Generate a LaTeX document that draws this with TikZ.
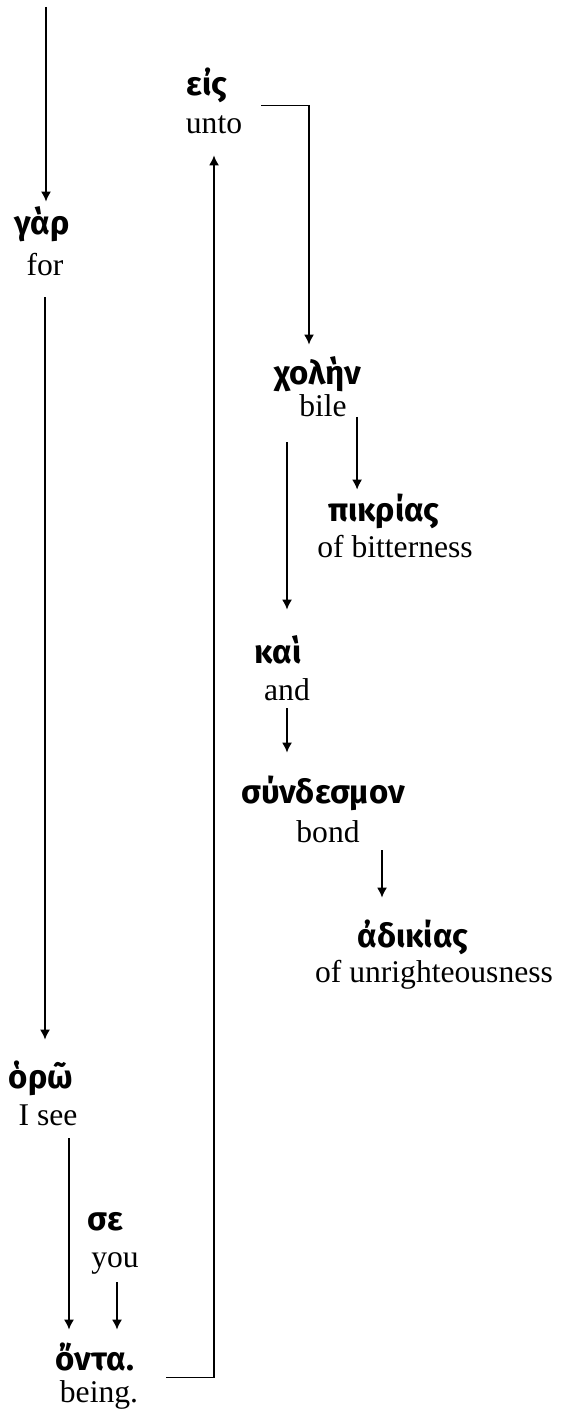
\documentclass[tikz,border=0pt]{standalone}
\usepackage{fontspec}
\setmainfont{Liberation Serif}
\newfontfamily\griego{Fira Sans}
\usetikzlibrary{arrows.meta}
\tikzset{
  gr/.style={anchor=base, inner sep=0pt, font=\griego\bfseries\fontsize{16.5}{19}\selectfont, text height=12pt, text depth=3pt},
  en/.style={anchor=base, inner sep=0pt, font=\fontsize{15.8}{18}\selectfont, text height=11pt, text depth=4pt},
  flecha/.style={-{Latex[length=5pt,width=5pt]}, line width=0.75pt}
}
\begin{document}
\begin{tikzpicture}[x=0.5pt,y=-0.5pt]
  \useasboundingbox (0,0) rectangle (565,1416);
  %palabras
  \node[gr] at (42,235) (gar) {γὰρ};
  \node[en] at (45,276) (for) {for};
  \node[gr] at (41,1088) (oro) {ὁρῶ};
  \node[en] at (48,1125) (isee) {I see};
  \node[gr] at (105,1230) (se) {σε};
  \node[en] at (115,1267) (you) {you};
  \node[gr] at (95,1370) (onta) {ὄντα.};
  \node[en] at (99,1402) (being) {being.};
  %%% RAMA DERECHA
  \node[gr] at (207,96) (eis) {εἰς};
  \node[en] at (214,134) (unto) {unto};
  \node[gr] at (318,385) (cholen) {χολὴν};
  \node[en] at (323,417) (bile) {bile};
  \node[gr] at (384,522) (pikrias) {πικρίας};
  \node[en] at (395,557) (bitter) {of bitterness};
  \node[gr] at (278,663) (kai) {καὶ};
  \node[en] at (287,700) (and) {and};
  \node[gr] at (323,803) (syndesmon) {σύνδεσμον};
  \node[en] at (328,842) (bond) {bond};
  \node[gr] at (413,947) (adikias) {ἀδικίας};
  \node[en] at (434,982) (unright) {of unrighteousness};
  \coordinate (arriba) at (46,7);
  %%%% FLECHAS
  \draw[flecha, shorten >=4.5pt] (arriba) -- (arriba |- gar.north);
  \draw[flecha, shorten <=6.5pt, shorten >=12pt] (for.south) -- (for.south |- oro.north);
  \draw[flecha, shorten <=2.5pt, shorten >=8pt] ([xshift=10.5pt]isee.south) -- ([xshift=10.5pt]isee.south |- onta.north);
  \draw[flecha, shorten <=3.5pt, shorten >=8pt] ([xshift=1pt]you.south) -- ([xshift=1pt]you.south |- onta.north);
  \draw[flecha, shorten >=6.5pt] ([shift={(14pt,1pt)}]being.north east) -| (unto.south);
  \draw[flecha, shorten >=8pt] ([shift={(9.5pt,3pt)}]unto.north east) -| ([xshift=-4.5pt]cholen.north);
  \draw[flecha, shorten >=4pt] ([xshift=5pt]bile.base east) -- ([xshift=5pt]bile.base east |- pikrias.north);
  \draw[flecha, shorten <=8.5pt, shorten >=14.5pt] (bile.south -| and.north) -- (kai.north -| and.north);
  \draw[flecha, shorten >=13pt] (and.south) -- (and.south |- syndesmon.north);
  \draw[flecha, shorten >=12.5pt] ([xshift=11pt]bond.south east) -- ([xshift=11pt]bond.south east |- adikias.north);
\end{tikzpicture}
\end{document}
